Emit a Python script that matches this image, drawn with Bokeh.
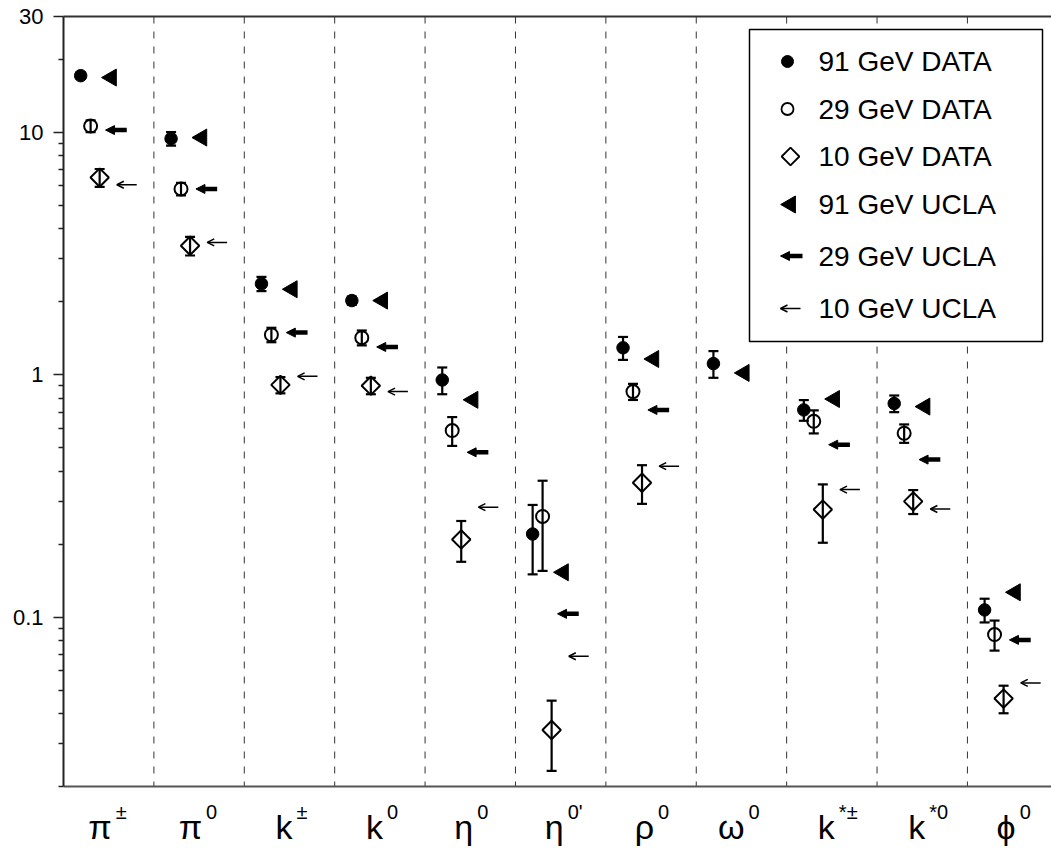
import numpy as np
from bokeh.plotting import figure
from bokeh.models import (ColumnDataSource, Range1d, LinearScale, FixedTicker,
                          CustomJSTickFormatter, LinearAxis, Whisker, TeeHead, Arrow,
                          NormalHead, OpenHead)
from bokeh.core.properties import value
from bokeh.embed import file_html
from bokeh.resources import INLINE

# ---- data ---------------------------------------------------------------
categories = ["π", "π", "k", "k", "η", "η", "ρ", "ω", "k", "k", "ϕ"]
superscripts = ["±", "0", "±", "0", "0", "0'", "0", "0", "*±", "*0", "0"]

nan = float("nan")
data_91 = [17.1, 9.4, 2.37, 2.02, 0.95, 0.22, 1.29, 1.11, 0.715, 0.76, 0.107]
err_91 = [0.5, 0.6, 0.16, 0.08, 0.12, 0.07, 0.14, 0.14, 0.07, 0.06, 0.012]
data_29 = [10.6, 5.83, 1.46, 1.42, 0.588, 0.26, 0.851, nan, 0.642, 0.573, 0.0847]
err_29 = [0.6, 0.35, 0.1, 0.1, 0.08, 0.105, 0.065, nan, 0.07, 0.05, 0.012]
data_10 = [6.5, 3.4, 0.907, 0.90, 0.209, 0.0342, 0.358, nan, 0.2775, 0.30, 0.0461]
err_10 = [0.55, 0.3, 0.07, 0.07, 0.04, 0.011, 0.065, nan, 0.075, 0.034, 0.006]

ucla_91 = [16.8, 9.5, 2.25, 2.02, 0.787, 0.153, 1.16, 1.016, 0.793, 0.738, 0.1265]
ucla_29 = [10.2, 5.83, 1.49, 1.30, 0.478, 0.1031, 0.715, nan, 0.514, 0.446, 0.0805]
ucla_10 = [6.07, 3.51, 0.984, 0.851, 0.284, 0.0689, 0.419, nan, 0.3356, 0.279, 0.0535]

y_lo, y_hi = 0.02, 30
major_ticks = [0.1, 1, 10, 30]
minor_ticks = ([k / 100 for k in range(2, 10)] + [k / 10 for k in range(2, 10)]
               + list(range(2, 10)) + [20])

legend_labels = ["91 GeV DATA", "29 GeV DATA", "10 GeV DATA",
                 "91 GeV UCLA", "29 GeV UCLA", "10 GeV UCLA"]

# ---- layout -------------------------------------------------------------
W, H = 1051, 848
LEFT, TOP = 63, 16
FW, FH = W - LEFT, H - TOP          # frame reaches the canvas bottom
AXIS_PX = 770                       # height of the value axis inside the frame
FONT = "Liberation Sans"

# the frame continues below the value axis so the species names fit inside it
decades = np.log10(y_hi / y_lo)
frame_lo = y_lo / 10 ** (decades * (FH - AXIS_PX) / AXIS_PX)

n = len(categories)
idx = np.arange(n, dtype=float)


def point_source(vals, errs, offset):
    v = np.asarray(vals, float)
    e = np.asarray(errs, float)
    keep = ~np.isnan(v)
    return ColumnDataSource(dict(x=(idx + offset)[keep], y=v[keep],
                                 upper=(v + e)[keep], lower=(v - e)[keep]))


def arrow_source(vals, tip, length):
    v = np.asarray(vals, float)
    keep = ~np.isnan(v)
    return ColumnDataSource(dict(x0=(idx + tip + length)[keep], x1=(idx + tip)[keep],
                                 y=v[keep]))


p = figure(width=W, height=H, y_axis_type="log",
           x_range=Range1d(0, 10.93), y_range=Range1d(frame_lo, y_hi),
           output_backend="svg", toolbar_location=None,
           min_border_left=LEFT, min_border_right=0,
           min_border_top=TOP, min_border_bottom=0)
p.xgrid.visible = False
p.ygrid.visible = False
p.outline_line_color = None
p.background_fill_color = "white"
p.border_fill_color = "white"
p.xaxis.visible = False

# pixel coordinate system (origin at frame top-left, y downwards)
p.extra_x_ranges = {"px": Range1d(0, FW)}
p.extra_y_ranges = {"px": Range1d(FH, 0)}
p.extra_x_scales = {"px": LinearScale()}
p.extra_y_scales = {"px": LinearScale()}

top_axis = LinearAxis(ticker=FixedTicker(ticks=[]), axis_line_color="#333333",
                      axis_line_width=2)
p.add_layout(top_axis, "above")

ya = p.yaxis[0]
ya.bounds = (y_lo, y_hi)
ya.ticker = FixedTicker(ticks=major_ticks, minor_ticks=minor_ticks)
ya.formatter = CustomJSTickFormatter(code="return tick.toString();")
ya.major_label_text_font = FONT
ya.major_label_text_font_size = "22px"
ya.major_label_text_color = "black"
ya.major_label_standoff = 10
ya.major_tick_out = 10
ya.major_tick_in = 0
ya.minor_tick_out = 5
ya.minor_tick_in = 0
ya.major_tick_line_color = "#222222"
ya.minor_tick_line_color = "#222222"
ya.major_tick_line_width = 1.5
ya.minor_tick_line_width = 1.5
ya.axis_line_color = "#222222"
ya.axis_line_width = 2

# dashed separators between particle species
bounds = idx[1:]
p.segment(x0=bounds, y0=y_hi, x1=bounds, y1=y_lo,
          line_dash="7 8", line_color="#333333", line_width=1)

# category axis line
p.segment(x0=[0], y0=[y_lo], x1=[p.x_range.end], y1=[y_lo],
          line_color="#555555", line_width=2)

# key box (drawn before the points so the separators are hidden behind it)
p.quad(left=686, right=979, top=13, bottom=325, x_range_name="px", y_range_name="px",
       fill_color="white", line_color="black", line_width=1.5)

# ---- measured points with error bars ------------------------------------
s91 = point_source(data_91, err_91, 0.19)
s29 = point_source(data_29, err_29, 0.30)
s10 = point_source(data_10, err_10, 0.40)

p.scatter("x", "y", source=s91, marker="circle", size=12.5,
          fill_color="black", line_color="black")
p.scatter("x", "y", source=s29, marker="circle", size=13,
          fill_color=None, line_color="black", line_width=2)
p.scatter("x", "y", source=s10, marker="square", angle=np.pi / 4, size=13,
          fill_color=None, line_color="black", line_width=2)

for src in (s91, s29, s10):
    p.add_layout(Whisker(source=src, base="x", upper="upper", lower="lower",
                         dimension="height", line_color="black", line_width=2.2,
                         upper_head=TeeHead(size=10, line_color="black", line_width=2.2),
                         lower_head=TeeHead(size=10, line_color="black", line_width=2.2)))

# ---- model predictions --------------------------------------------------
u91 = ColumnDataSource(dict(x=idx + 0.53, y=ucla_91))
p.scatter("x", "y", source=u91, marker="triangle", angle=np.pi / 2, size=17,
          fill_color="black", line_color="black")

u29 = arrow_source(ucla_29, 0.465, 0.235)
p.add_layout(Arrow(source=u29, x_start="x0", y_start="y", x_end="x1", y_end="y",
                   line_color="black", line_width=4.5,
                   end=NormalHead(size=9, fill_color="black", line_color="black",
                                  line_width=1)))

u10 = arrow_source(ucla_10, 0.59, 0.22)
p.add_layout(Arrow(source=u10, x_start="x0", y_start="y", x_end="x1", y_end="y",
                   line_color="black", line_width=1.5,
                   end=OpenHead(size=7, line_color="black", line_width=1.5)))

# ---- key ----------------------------------------------------------------
rows = [45, 92.5, 140, 188, 239.5, 292]
p.scatter(x=[724], y=[rows[0]], marker="circle", size=12, fill_color="black",
          line_color="black", x_range_name="px", y_range_name="px")
p.scatter(x=[724], y=[rows[1]], marker="circle", size=12, fill_color=None,
          line_color="black", line_width=1.8, x_range_name="px", y_range_name="px")
p.scatter(x=[727], y=[rows[2]], marker="square", angle=np.pi / 4, size=12.5,
          fill_color=None, line_color="black", line_width=1.8,
          x_range_name="px", y_range_name="px")
p.scatter(x=[727], y=[rows[3]], marker="triangle", angle=np.pi / 2, size=17,
          fill_color="black", line_color="black", x_range_name="px", y_range_name="px")
p.add_layout(Arrow(x_start=739, y_start=rows[4], x_end=717, y_end=rows[4],
                   x_range_name="px", y_range_name="px",
                   line_color="black", line_width=4.5,
                   end=NormalHead(size=9, fill_color="black", line_color="black",
                                  line_width=1)))
p.add_layout(Arrow(x_start=737, y_start=rows[5], x_end=717, y_end=rows[5],
                   x_range_name="px", y_range_name="px",
                   line_color="black", line_width=1.5,
                   end=OpenHead(size=7, line_color="black", line_width=1.5)))
p.text(x=[755] * len(legend_labels), y=rows, text=legend_labels,
       x_range_name="px", y_range_name="px",
       text_font=value(FONT), text_font_size="28px", text_color="black",
       text_align="left", text_baseline="middle")

# ---- species names below the category axis ------------------------------
lab = ColumnDataSource(dict(x=idx + 0.5, main=categories, sup=superscripts,
                            mid_main=[AXIS_PX + 40] * n, mid_sup=[AXIS_PX + 25] * n))
p.text(x="x", y="mid_main", text="main", source=lab, y_range_name="px",
       x_offset=3, text_align="right", text_baseline="middle",
       text_font=value(FONT), text_font_size="34px", text_color="black")
p.text(x="x", y="mid_sup", text="sup", source=lab, y_range_name="px",
       x_offset=7, text_align="left", text_baseline="middle",
       text_font=value(FONT), text_font_size="20px", text_color="black")

open("out.html", "w").write(file_html(p, INLINE))
